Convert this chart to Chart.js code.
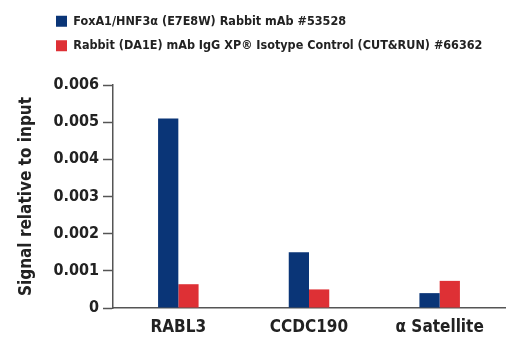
<!DOCTYPE html>
<html>
<head>
<meta charset="utf-8">
<script src="https://cdn.jsdelivr.net/npm/chart.js@4.4.1/dist/chart.umd.min.js"></script>
<style>
  html, body { margin: 0; padding: 0; background: #fff; }
  #wrap { width: 520px; height: 350px; }
</style>
</head>
<body>
<div id="wrap"><canvas id="c"></canvas></div>
<script>
  // dati, nolasīti no attēla
  var CATEGORIES = ['RABL3', 'CCDC190', 'α Satellite'];
  var FOXA1_VALUES = [0.0051, 0.0015, 0.0004];
  var ISOTYPE_VALUES = [0.00064, 0.0005, 0.00073];
  var SERIES_LABELS = [
    'FoxA1/HNF3α (E7E8W) Rabbit mAb #53528',
    'Rabbit (DA1E) mAb IgG XP® Isotype Control (CUT&RUN) #66362'
  ];
  var Y_TITLE = 'Signal relative to input';

  var FONT = "'DejaVu Sans Condensed', 'DejaVu Sans', sans-serif";
  var BLUE = '#0a3577';
  var RED = '#de3035';
  var AXIS = '#555555';
  var TEXT = '#222222';

  // leģendu nobīda pa labi un uz augšu, kā oriģinālā
  var legendShift = {
    id: 'legendShift',
    afterLayout: function (chart) {
      var lg = chart.legend;
      lg.left += 36; lg.right += 36;
      lg.top -= 23; lg.bottom -= 23;
    }
  };

  new Chart(document.getElementById('c').getContext('2d'), {
    type: 'bar',
    data: {
      labels: CATEGORIES,
      datasets: [
        { label: SERIES_LABELS[0], data: FOXA1_VALUES, backgroundColor: BLUE },
        { label: SERIES_LABELS[1], data: ISOTYPE_VALUES, backgroundColor: RED }
      ]
    },
    options: {
      responsive: true, maintainAspectRatio: false, animation: false,
      layout: { padding: { left: 8, right: 15, top: 26, bottom: 0 } },
      categoryPercentage: 0.31, barPercentage: 1,
      plugins: {
        tooltip: { enabled: false },
        legend: {
          position: 'top', align: 'start',
          labels: {
            boxWidth: 11, boxHeight: 11, padding: 12,
            color: TEXT,
            font: { family: FONT, size: 12.5, weight: 'bold', lineHeight: 1.2 }
          }
        }
      },
      scales: {
        x: {
          grid: { display: true, drawOnChartArea: false, drawTicks: false },
          border: { color: AXIS, width: 1.5 },
          ticks: { color: TEXT, padding: 9, font: { family: FONT, size: 17, weight: 'bold' } },
          afterFit: function (s) { s.height = 42; }
        },
        y: {
          min: 0, max: 0.006,
          ticks: {
            stepSize: 0.001, color: TEXT, padding: 4,
            font: { family: FONT, size: 16, weight: 'bold' },
            callback: function (v) { return v === 0 ? '0' : v.toFixed(3); }
          },
          grid: { display: true, drawOnChartArea: false, tickLength: 10, tickColor: AXIS, tickWidth: 1.5 },
          border: { color: AXIS, width: 1.5 },
          title: {
            display: true, text: Y_TITLE, color: TEXT, padding: { top: 8, bottom: 4 },
            font: { family: FONT, size: 17, weight: 'bold' }
          },
          afterFit: function (s) { s.width = 105; }
        }
      }
    },
    plugins: [legendShift]
  });
</script>
</body>
</html>
